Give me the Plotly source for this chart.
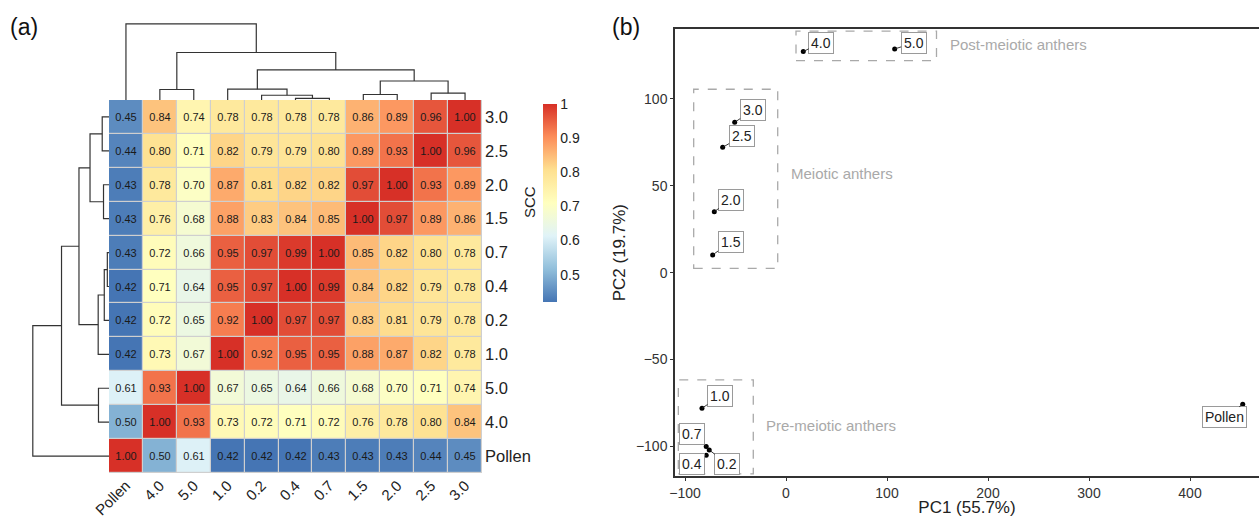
import plotly.graph_objects as go

W, H = 1259, 517
FONT = "Liberation Sans, Arial, sans-serif"

# ---------------- data ----------------
col_labels = ["Pollen", "4.0", "5.0", "1.0", "0.2", "0.4", "0.7", "1.5", "2.0", "2.5", "3.0"]
row_labels = ["3.0", "2.5", "2.0", "1.5", "0.7", "0.4", "0.2", "1.0", "5.0", "4.0", "Pollen"]
scc = [
    [0.45, 0.84, 0.74, 0.78, 0.78, 0.78, 0.78, 0.86, 0.89, 0.96, 1.00],
    [0.44, 0.80, 0.71, 0.82, 0.79, 0.79, 0.80, 0.89, 0.93, 1.00, 0.96],
    [0.43, 0.78, 0.70, 0.87, 0.81, 0.82, 0.82, 0.97, 1.00, 0.93, 0.89],
    [0.43, 0.76, 0.68, 0.88, 0.83, 0.84, 0.85, 1.00, 0.97, 0.89, 0.86],
    [0.43, 0.72, 0.66, 0.95, 0.97, 0.99, 1.00, 0.85, 0.82, 0.80, 0.78],
    [0.42, 0.71, 0.64, 0.95, 0.97, 1.00, 0.99, 0.84, 0.82, 0.79, 0.78],
    [0.42, 0.72, 0.65, 0.92, 1.00, 0.97, 0.97, 0.83, 0.81, 0.79, 0.78],
    [0.42, 0.73, 0.67, 1.00, 0.92, 0.95, 0.95, 0.88, 0.87, 0.82, 0.78],
    [0.61, 0.93, 1.00, 0.67, 0.65, 0.64, 0.66, 0.68, 0.70, 0.71, 0.74],
    [0.50, 1.00, 0.93, 0.73, 0.72, 0.71, 0.72, 0.76, 0.78, 0.80, 0.84],
    [1.00, 0.50, 0.61, 0.42, 0.42, 0.42, 0.43, 0.43, 0.43, 0.44, 0.45],
]
# hierarchical clustering merges (node mK is the K-th merge)
merge_a = ["0.4", "0.2", "1.0", "1.5", "2.5", "m4", "m3", "4.0", "m8", "Pollen"]
merge_b = ["0.7", "m1", "m2", "2.0", "3.0", "m5", "m6", "5.0", "m7", "m9"]
merge_h = [0.022, 0.062, 0.142, 0.072, 0.089, 0.249, 0.394, 0.138, 0.623, 1.0]

pc_labels = ["4.0", "5.0", "3.0", "2.5", "2.0", "1.5", "1.0", "0.7", "0.2", "0.4", "Pollen"]
pc1 = [17.1, 107.6, -50.8, -62.7, -71.0, -72.6, -83.2, -79.0, -76.0, -79.0, 452.2]
pc2 = [127.2, 128.7, 86.5, 72.1, 35.1, 10.2, -78.0, -100.0, -102.0, -105.0, -75.7]
label_dx = [18, 19, 18, 19, 17, 18, 18, -14, 18, -14, -18]
label_dy = [-9, -6, -12, -11, -12, -13, -12, -12, 14, 9, 13]

groups = ["Post-meiotic anthers", "Meiotic anthers", "Pre-meiotic anthers"]
group_x0 = [9.9, -91.4, -106.6]
group_x1 = [149.0, -8.2, -32.4]
group_y0 = [122.0, 2.5, -115.8]
group_y1 = [139.0, 105.5, -61.7]
group_tx = [160.0, 3.3, -22.0]
group_ty = [131.0, 57.2, -88.2]

pc1_ticks = [-100, 0, 100, 200, 300, 400]
pc2_ticks = [-100, -50, 0, 50, 100]
cb_ticks = [0.5, 0.6, 0.7, 0.8, 0.9, 1.0]
cb_text = ["0.5", "0.6", "0.7", "0.8", "0.9", "1"]

colors = ["#4575B4", "#91BFDB", "#E0F3F8", "#FFFFBF", "#FEE090", "#FC8D59", "#D73027"]


def px_x(p):
    return p / W


def px_y(p):
    return (H - p) / H


def dendro(order):
    pos = {n: i for i, n in enumerate(order)}
    hgt = {n: 0.0 for n in order}
    ps, hs = [], []
    for k, (a, b, h) in enumerate(zip(merge_a, merge_b, merge_h)):
        pa, pb, ha, hb = pos[a], pos[b], hgt[a], hgt[b]
        ps += [pa, pa, pb, pb, None]
        hs += [ha, h, h, hb, None]
        pos["m%d" % (k + 1)] = (pa + pb) / 2
        hgt["m%d" % (k + 1)] = h
    return ps, hs


fig = go.Figure()

n = len(col_labels)
fig.add_trace(go.Heatmap(
    z=scc, x=list(range(n)), y=list(range(len(row_labels))),
    zmin=0.42, zmax=1.0,
    colorscale=[[i / (len(colors) - 1), c] for i, c in enumerate(colors)],
    xgap=1.2, ygap=1.2,
    texttemplate="%{z:.2f}", textfont=dict(size=11, color="#1a1a1a", family=FONT),
    hoverinfo="skip",
    colorbar=dict(x=px_x(543), xanchor="left", y=px_y(104), yanchor="top",
                  lenmode="pixels", len=198, thickness=14, outlinewidth=0,
                  xpad=0, ypad=0, ticks="", tickvals=cb_ticks, ticktext=cb_text,
                  tickfont=dict(size=14, color="#222", family=FONT)),
    xaxis="x", yaxis="y",
))

cx, cy = dendro(col_labels)
fig.add_trace(go.Scatter(x=cx, y=cy, mode="lines", line=dict(color="#333", width=1.2),
                         xaxis="x2", yaxis="y2", hoverinfo="skip", showlegend=False))
rx, ry = dendro(row_labels)
fig.add_trace(go.Scatter(x=ry, y=rx, mode="lines", line=dict(color="#333", width=1.2),
                         xaxis="x3", yaxis="y3", hoverinfo="skip", showlegend=False))

fig.add_trace(go.Scatter(x=pc1, y=pc2, mode="markers", marker=dict(size=5, color="black"),
                         xaxis="x4", yaxis="y4", hoverinfo="skip", showlegend=False))

hm_x = [px_x(109), px_x(482)]
hm_y = [px_y(473), px_y(100)]
hrange = [0, 1.03]
top_d = [px_y(100), px_y(100 - 76.2 * 1.03)]
left_d = [px_x(109 - 76.2 * 1.03), px_x(109)]

noax = dict(showgrid=False, zeroline=False, showticklabels=False, ticks="", showline=False,
            automargin=False)

fig.update_layout(
    width=W, height=H, margin=dict(l=0, r=0, t=0, b=0, autoexpand=False),
    paper_bgcolor="white", plot_bgcolor="white", showlegend=False,
    font=dict(family=FONT, color="#222"),
    xaxis=dict(domain=hm_x, range=[-0.5, n - 0.5], showgrid=False, zeroline=False,
               tickvals=list(range(n)), ticktext=col_labels, tickangle=-45, ticks="",
               tickfont=dict(size=15, color="#222"), anchor="y", automargin=False),
    yaxis=dict(domain=hm_y, range=[len(row_labels) - 0.5, -0.5], showgrid=False, zeroline=False,
               tickvals=list(range(len(row_labels))), ticktext=row_labels, side="right", ticks="",
               tickfont=dict(size=16.5, color="#222"), anchor="x", ticklabelstandoff=2,
               automargin=False),
    xaxis2=dict(domain=hm_x, range=[-0.5, n - 0.5], anchor="y2", **noax),
    yaxis2=dict(domain=top_d, range=hrange, anchor="x2", **noax),
    xaxis3=dict(domain=left_d, range=hrange[::-1], anchor="y3", **noax),
    yaxis3=dict(domain=hm_y, range=[len(row_labels) - 0.5, -0.5], anchor="x3", **noax),
    xaxis4=dict(domain=[px_x(675), 1.0], range=[-109.9, 468.3], anchor="y4", automargin=False,
                showgrid=False, zeroline=False, showline=True, linecolor="#333", linewidth=1.5,
                mirror=True, ticks="outside", ticklen=3, tickcolor="#333", tickvals=pc1_ticks,
                tickfont=dict(size=14, color="#333"),
                title=dict(text="PC1 (55.7%)", font=dict(size=17, color="#222"), standoff=6)),
    yaxis4=dict(domain=[px_y(476), px_y(29.3)], range=[-117.0, 140.0], anchor="x4", automargin=False,
                showgrid=False, zeroline=False, showline=True, linecolor="#333", linewidth=1.5,
                ticks="outside", ticklen=3, tickcolor="#333", tickvals=pc2_ticks,
                tickfont=dict(size=14, color="#333"),
                title=dict(text="PC2 (19.7%)", font=dict(size=17, color="#222"), standoff=6)),
)

shapes = [dict(type="rect", xref="x", yref="y", x0=-0.5, x1=n - 0.5, y0=-0.5,
               y1=len(row_labels) - 0.5, fillcolor="#cfcfcf", line=dict(width=0), layer="below")]
for x0, x1, y0, y1 in zip(group_x0, group_x1, group_y0, group_y1):
    shapes.append(dict(type="rect", xref="x4", yref="y4", x0=x0, x1=x1, y0=y0, y1=y1,
                       line=dict(color="#a9a9a9", width=1.3, dash="dash")))
fig.update_layout(shapes=shapes)

ann = [
    dict(text="(a)", x=px_x(8), y=px_y(27), xref="paper", yref="paper", xanchor="left",
         yanchor="middle", showarrow=False, font=dict(size=23, color="#111")),
    dict(text="(b)", x=px_x(610), y=px_y(27), xref="paper", yref="paper", xanchor="left",
         yanchor="middle", showarrow=False, font=dict(size=23, color="#111")),
    dict(text="SCC", x=px_x(530), y=px_y(202), xref="paper", yref="paper", textangle=-90,
         showarrow=False, font=dict(size=15, color="#222")),
]
for t, gx, gy in zip(groups, group_tx, group_ty):
    ann.append(dict(text=t, x=gx, y=gy, xref="x4", yref="y4", xanchor="left", showarrow=False,
                    font=dict(size=15, color="#a9a9a9")))
for t, x, y, dx, dy in zip(pc_labels, pc1, pc2, label_dx, label_dy):
    ann.append(dict(text=t, x=x, y=y, xref="x4", yref="y4", ax=dx, ay=dy, showarrow=True,
                    arrowhead=0, arrowwidth=0.9, arrowcolor="#222", standoff=0,
                    bgcolor="white", bordercolor="#9a9a9a", borderwidth=1, borderpad=2,
                    font=dict(size=14, color="#222")))
fig.update_layout(annotations=ann)

fig.write_html("out.html", config={"displayModeBar": False},
               post_script="document.body.style.margin='0';document.body.style.overflow='hidden';")
